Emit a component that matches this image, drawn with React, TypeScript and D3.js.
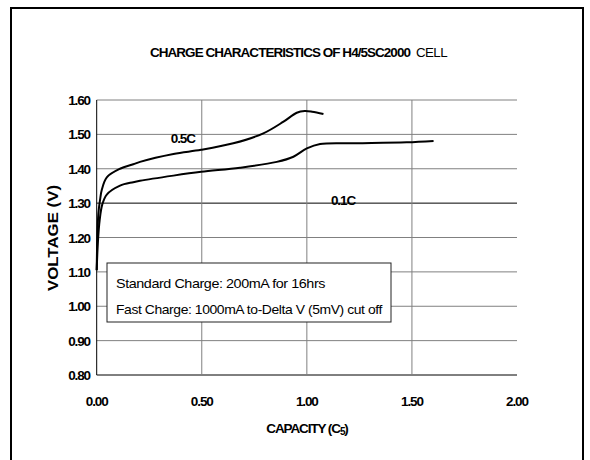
import React from "react";
import * as d3 from "d3";

const xTicks = [0, 0.5, 1.0, 1.5, 2.0];
const yTicks = [0.8, 0.9, 1.0, 1.1, 1.2, 1.3, 1.4, 1.5, 1.6];

const curve05C: [number, number][] = [
  [0, 1.105], [0.003, 1.2], [0.008, 1.27], [0.016, 1.31], [0.024, 1.338],
  [0.048, 1.375], [0.111, 1.4], [0.174, 1.413], [0.206, 1.42], [0.365, 1.443],
  [0.497, 1.455], [0.65, 1.474], [0.793, 1.503], [0.889, 1.537], [0.952, 1.563],
  [0.99, 1.568], [1.025, 1.566], [1.079, 1.559],
];

const curve01C: [number, number][] = [
  [0, 1.105], [0.006, 1.19], [0.014, 1.25], [0.026, 1.295], [0.048, 1.325],
  [0.111, 1.351], [0.174, 1.361], [0.206, 1.365], [0.365, 1.38], [0.497, 1.391],
  [0.682, 1.403], [0.857, 1.42], [0.936, 1.435], [1.0, 1.459], [1.063, 1.472],
  [1.237, 1.474], [1.475, 1.477], [1.603, 1.481],
];

const seriesLabels = [
  { text: "0.5C", x: 0.41, y: 1.49 },
  { text: "0.1C", x: 1.172, y: 1.309 },
];

const legendLines = [
  "Standard Charge:  200mA  for 16hrs",
  "Fast Charge: 1000mA to-Delta V (5mV) cut off",
];

export default function App() {
  const x = d3.scaleLinear().domain([0, 2]).range([96.7, 517]);
  const y = d3.scaleLinear().domain([0.8, 1.6]).range([375, 100]);
  const line = d3
    .line<[number, number]>()
    .x((d) => x(d[0]))
    .y((d) => y(d[1]))
    .curve(d3.curveCatmullRom.alpha(0.5));

  const font = "Arial, 'Liberation Sans', sans-serif";

  return (
    <svg
      width={590}
      height={460}
      style={{ position: "absolute", left: 0, top: 0, background: "#fff" }}
      fontFamily={font}
    >
      <rect x={0} y={0} width={590} height={460} fill="#fff" />
      {/* outer frame */}
      <path d="M11,470 L11,8 L583,8 L583,470" fill="none" stroke="#000" strokeWidth={2} />

      {/* title */}
      <text
        x={150}
        y={57}
        fontSize={13.5}
        fontWeight="bold"
        letterSpacing={-0.95}
        textLength={260}
        lengthAdjust="spacingAndGlyphs"
      >
        CHARGE CHARACTERISTICS OF H4/5SC2000
      </text>
      <text x={416} y={57} fontSize={13.5} letterSpacing={-0.6} textLength={31} lengthAdjust="spacingAndGlyphs">
        CELL
      </text>

      {/* horizontal grid */}
      {yTicks.map((t) => (
        <line
          key={"h" + t}
          x1={x(0)}
          x2={x(2)}
          y1={y(t)}
          y2={y(t)}
          stroke={Math.abs(t - 1.3) < 1e-6 || Math.abs(t - 0.8) < 1e-6 ? "#000" : "#808080"}
          strokeWidth={1}
        />
      ))}
      {/* vertical grid */}
      {xTicks.slice(1, 4).map((t) => (
        <line key={"v" + t} x1={x(t)} x2={x(t)} y1={y(1.6)} y2={y(0.8)} stroke="#808080" strokeWidth={1} />
      ))}
      {/* left axis */}
      <line x1={x(0)} x2={x(0)} y1={y(1.6)} y2={y(0.8)} stroke="#000" strokeWidth={1} />

      {/* y tick labels */}
      {yTicks.map((t) => (
        <text
          key={"yl" + t}
          x={90}
          y={y(t) + 5}
          fontSize={13.5}
          fontWeight="bold"
          textAnchor="end"
          letterSpacing={-1.1}
        >
          {t.toFixed(2)}
        </text>
      ))}
      {/* x tick labels */}
      {xTicks.map((t) => (
        <text
          key={"xl" + t}
          x={x(t)}
          y={406}
          fontSize={13.5}
          fontWeight="bold"
          textAnchor="middle"
          letterSpacing={-1.1}
        >
          {t.toFixed(2)}
        </text>
      ))}

      {/* axis titles */}
      <text
        transform={`translate(58, 238) rotate(-90)`}
        fontSize={15.5}
        fontWeight="bold"
        textAnchor="middle"
        textLength={106}
        lengthAdjust="spacingAndGlyphs"
      >
        VOLTAGE (V)
      </text>
      <text x={307} y={433} fontSize={13.5} fontWeight="bold" textAnchor="middle" letterSpacing={-1.1}>
        CAPACITY (C<tspan fontSize={10} dy={2}>5</tspan>
        <tspan dy={-2}>)</tspan>
      </text>

      {/* curves */}
      <path d={line(curve05C) || ""} fill="none" stroke="#000" strokeWidth={2} />
      <path d={line(curve01C) || ""} fill="none" stroke="#000" strokeWidth={2} />

      {/* series labels */}
      {seriesLabels.map((s) => (
        <text
          key={s.text}
          x={x(s.x)}
          y={y(s.y) + 5}
          fontSize={13.5}
          fontWeight="bold"
          textAnchor="middle"
          letterSpacing={-1.1}
        >
          {s.text}
        </text>
      ))}

      {/* legend box */}
      <rect x={107} y={263} width={284} height={59} fill="#fff" stroke="#222" strokeWidth={1} />
      <text x={116} y={288} fontSize={13.5} letterSpacing={-0.4} textLength={209} lengthAdjust="spacingAndGlyphs">
        {legendLines[0]}
      </text>
      <text x={116} y={314} fontSize={13.5} letterSpacing={-0.4} textLength={266} lengthAdjust="spacingAndGlyphs">
        {legendLines[1]}
      </text>
    </svg>
  );
}
